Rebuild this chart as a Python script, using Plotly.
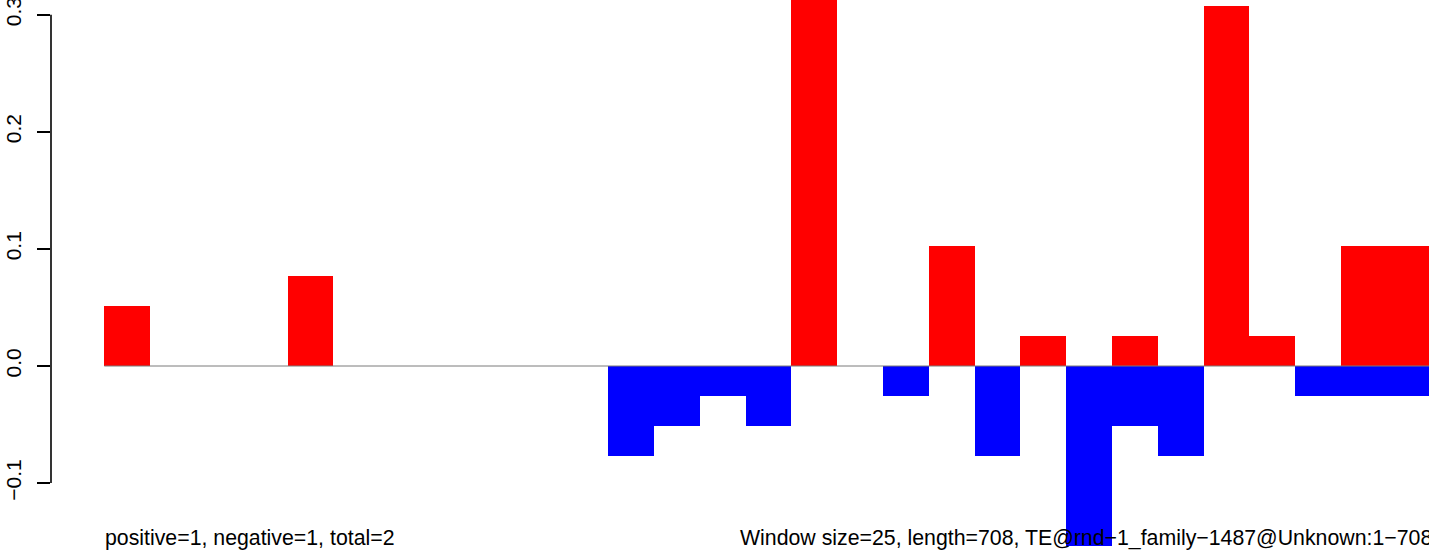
import plotly.graph_objects as go

# Window index (29 windows of size 25 over length 708)
windows = list(range(29))
# Fraction values (multiples of 1/39)
positive = [2/39, 0, 0, 0, 3/39, 0, 0, 0, 0, 0, 0, 0, 0, 0, 0, 15/39, 0, 0, 4/39, 0,
            1/39, 0, 1/39, 0, 12/39, 1/39, 0, 4/39, 4/39]
negative = [0, 0, 0, 0, 0, 0, 0, 0, 0, 0, 0, -3/39, -2/39, -1/39, -2/39, 0, 0, -1/39, 0, -3/39,
            0, -6/39, -2/39, -3/39, 0, 0, -1/39, -1/39, -1/39]
ytick_vals = [-0.1, 0.0, 0.1, 0.2, 0.3]
ytick_text = ["\u22120.1", "0.0", "0.1", "0.2", "0.3"]
left_text = "positive=1, negative=1, total=2"
right_text = "Window size=25, length=708, TE@rnd\u22121_family\u22121487@Unknown:1\u2212708"

W, H = 1429, 552
unit = 45.8            # px per window
x0px = 104.3           # px of first bar left edge
plot_left = 51
y0px = 366.0           # px of y=0
ppu = 1171.0           # px per y unit

centers = [w + 0.5 for w in windows]

fig = go.Figure()
fig.add_trace(go.Bar(x=centers, y=positive, width=1, marker=dict(color="#ff0000", line=dict(width=0)),
                     showlegend=False))
fig.add_trace(go.Bar(x=centers, y=negative, width=1, marker=dict(color="#0000ff", line=dict(width=0)),
                     showlegend=False))

xr = [(plot_left - x0px) / unit, (W - x0px) / unit]
yr = [-(H - y0px) / ppu, y0px / ppu]

font = "Liberation Sans, Arial, Helvetica, sans-serif"

fig.update_layout(
    width=W, height=H,
    margin=dict(l=plot_left, r=0, t=0, b=0, autoexpand=False),
    paper_bgcolor="white", plot_bgcolor="white",
    barmode="overlay", bargap=0,
    font=dict(family=font, size=21, color="black"),
    xaxis=dict(range=xr, visible=False, showgrid=False, zeroline=False, automargin=False),
    yaxis=dict(range=yr, showgrid=False, zeroline=False, showline=False, automargin=False,
               tickmode="array", tickvals=ytick_vals, ticktext=ytick_text,
               ticks="outside", ticklen=13, tickwidth=1.6, tickcolor="black",
               tickangle=-90, ticklabelstandoff=8, ticklabeloverflow="allow",
               tickfont=dict(family=font, size=21, color="black")),
)

# y axis line spanning tick range
fig.add_shape(type="line", xref="paper", yref="y", x0=0, x1=0,
              y0=min(ytick_vals), y1=max(ytick_vals),
              line=dict(color="black", width=1.6))
# zero baseline across bars
fig.add_shape(type="line", xref="x", yref="y", x0=0, x1=len(windows), y0=0, y1=0,
              line=dict(color="#7a7a7a", width=1), layer="above")

# text anchors: left at first bar's left edge, right at last bar's right edge (paper coords)
span = W - plot_left
left_x = (x0px - 1.5 - plot_left) / span
right_x = (x0px + len(windows) * unit + 2 - plot_left) / span

fig.add_annotation(x=left_x, xref="paper", y=0.025, yref="paper", text=left_text, showarrow=False,
                   xanchor="left", yanchor="middle", font=dict(family=font, size=21.3, color="black"))
fig.add_annotation(x=right_x, xref="paper", y=0.025, yref="paper", text=right_text, showarrow=False,
                   xanchor="right", yanchor="middle", font=dict(family=font, size=21.3, color="black"))

fig.write_html("out.html", config={"displayModeBar": False},
               post_script="document.body.style.margin='0';document.body.style.padding='0';document.body.style.overflow='hidden';")
